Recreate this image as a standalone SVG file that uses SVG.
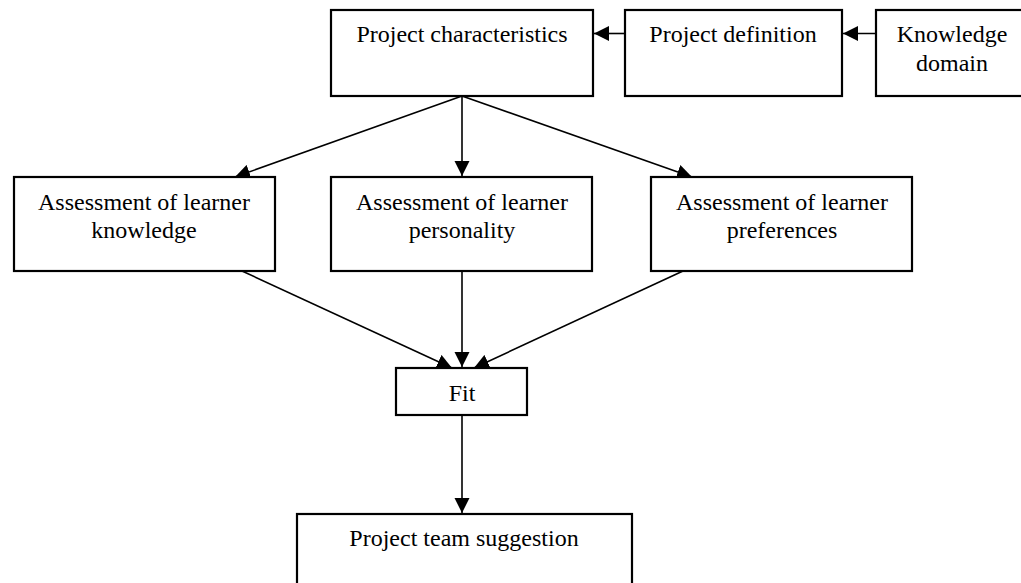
<svg xmlns="http://www.w3.org/2000/svg" width="1021" height="583" viewBox="0 0 1021 583">
<style>
.box{fill:#fff;stroke:#000;stroke-width:2.2}
.lbl{font-family:"Liberation Serif","Times New Roman",serif;font-size:24px;fill:#000;text-anchor:middle}
.con{stroke:#000;stroke-width:1.6;fill:none;marker-end:url(#ah)}
</style>
<defs>
<marker id="ah" markerUnits="userSpaceOnUse" markerWidth="16" markerHeight="16" viewBox="0 0 16 16" refX="15" refY="8" orient="auto">
<path d="M0,0.5 L15,8 L0,15.5 Z" fill="#000"/>
</marker>
</defs>
<rect width="1021" height="583" fill="#fff"/>
<g id="connectors">
<line class="con" x1="625" y1="33.5" x2="594" y2="33.5"/>
<line class="con" x1="876" y1="33.5" x2="843" y2="33.5"/>
<line class="con" x1="462" y1="96" x2="235" y2="177"/>
<line class="con" x1="462" y1="96" x2="462" y2="176"/>
<line class="con" x1="462" y1="96" x2="692" y2="177"/>
<line class="con" x1="242" y1="271" x2="452" y2="368"/>
<line class="con" x1="462" y1="271" x2="462" y2="367"/>
<line class="con" x1="683" y1="271" x2="474" y2="368"/>
<line class="con" x1="462" y1="415" x2="462" y2="513"/>
</g>
<g id="project-characteristics">
<rect class="box" x="331" y="10" width="262" height="86"/>
<text class="lbl" x="462" y="42">Project characteristics</text>
</g>
<g id="project-definition">
<rect class="box" x="625" y="10" width="217" height="86"/>
<text class="lbl" x="733" y="42">Project definition</text>
</g>
<g id="knowledge-domain">
<rect class="box" x="876" y="10" width="150" height="86"/>
<text class="lbl" x="952" y="42">Knowledge</text>
<text class="lbl" x="952" y="71">domain</text>
</g>
<g id="assessment-knowledge">
<rect class="box" x="14" y="177" width="261" height="94"/>
<text class="lbl" x="144" y="210">Assessment of learner</text>
<text class="lbl" x="144" y="238">knowledge</text>
</g>
<g id="assessment-personality">
<rect class="box" x="331" y="177" width="261" height="94"/>
<text class="lbl" x="462" y="210">Assessment of learner</text>
<text class="lbl" x="462" y="238">personality</text>
</g>
<g id="assessment-preferences">
<rect class="box" x="651" y="177" width="261" height="94"/>
<text class="lbl" x="782" y="210">Assessment of learner</text>
<text class="lbl" x="782" y="238">preferences</text>
</g>
<g id="fit">
<rect class="box" x="396" y="368" width="131" height="47"/>
<text class="lbl" x="462" y="401">Fit</text>
</g>
<g id="project-team-suggestion">
<rect class="box" x="297" y="514" width="335" height="80"/>
<text class="lbl" x="464" y="546">Project team suggestion</text>
</g>
</svg>
